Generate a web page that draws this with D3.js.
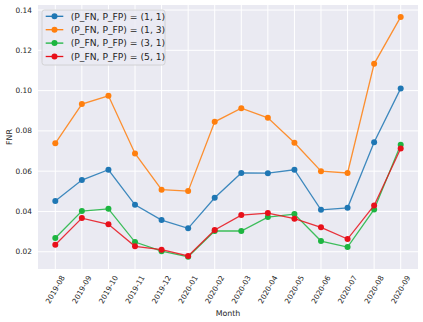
<!DOCTYPE html>
<html>
<head>
<meta charset="utf-8">
<script src="https://cdn.jsdelivr.net/npm/d3@7"></script>
<style>
  body { margin: 0; background: #fff; }
  svg { display: block; font-family: "DejaVu Sans", sans-serif; }
</style>
</head>
<body>
<div id="chart"></div>
<script>
// months on the x axis
const months = ["2019-08", "2019-09", "2019-10", "2019-11", "2019-12", "2020-01", "2020-02",
  "2020-03", "2020-04", "2020-05", "2020-06", "2020-07", "2020-08", "2020-09"]
const yTicks = [0.02, 0.04, 0.06, 0.08, 0.10, 0.12, 0.14]

// FNR per weighting
const fnr11 = [0.0452, 0.0556, 0.0607, 0.0433, 0.0357, 0.0316, 0.0468, 0.0591, 0.0590, 0.0607, 0.0408, 0.0418, 0.0744, 0.1011]
const fnr13 = [0.0738, 0.0933, 0.0974, 0.0688, 0.0508, 0.0501, 0.0845, 0.0913, 0.0865, 0.0741, 0.0600, 0.0591, 0.1133, 0.1366]
const fnr31 = [0.0268, 0.0402, 0.0413, 0.0248, 0.0203, 0.0175, 0.0303, 0.0303, 0.0372, 0.0387, 0.0253, 0.0223, 0.0410, 0.0731]
const fnr51 = [0.0235, 0.0367, 0.0336, 0.0227, 0.0210, 0.0179, 0.0308, 0.0382, 0.0392, 0.0364, 0.0321, 0.0263, 0.0430, 0.0713]

const seriesNames = ["(P_FN, P_FP) = (1, 1)", "(P_FN, P_FP) = (1, 3)", "(P_FN, P_FP) = (3, 1)", "(P_FN, P_FP) = (5, 1)"]
const seriesColors = ["#1f77b4", "#ff7f0e", "#1db540", "#e8101a"]
const seriesValues = [fnr11, fnr13, fnr31, fnr51]

let width = 423, height = 322
let margin = { top: 5, right: 5, bottom: 53, left: 38 }
let plotW = width - margin.left - margin.right
let plotH = height - margin.top - margin.bottom

let svg = d3.select("#chart").append("svg")
  .attr("width", width)
  .attr("height", height)

// x: matplotlib style 5% margin either side
let xPos = d3.scalePoint().domain(months).range([0, plotW]).padding(0)
let pad = 17.3
xPos.range([pad, plotW - pad])

let y = d3.scaleLinear().domain([0.01143, 0.1425]).range([plotH, 0])

let g = svg.append("g").attr("transform", "translate(" + margin.left + "," + margin.top + ")")

g.append("rect")
  .attr("width", plotW)
  .attr("height", plotH)
  .attr("fill", "#eaeaf2")

// gridlines
g.selectAll(".ygrid").data(yTicks).enter().append("line")
  .attr("x1", 0).attr("x2", plotW)
  .attr("y1", d => y(d)).attr("y2", d => y(d))
  .attr("stroke", "#fff").attr("stroke-width", 1)
g.selectAll(".xgrid").data(months).enter().append("line")
  .attr("y1", 0).attr("y2", plotH)
  .attr("x1", d => xPos(d)).attr("x2", d => xPos(d))
  .attr("stroke", "#fff").attr("stroke-width", 1)

// y tick labels
g.selectAll(".ylab").data(yTicks).enter().append("text")
  .attr("x", -6)
  .attr("y", d => y(d))
  .attr("dy", "0.35em")
  .attr("text-anchor", "end")
  .attr("font-size", 7.4)
  .attr("fill", "#262626")
  .text(d => d.toFixed(2))

// x tick labels rotated 60deg, centred on the tick like matplotlib
let xl = g.selectAll(".xlab").data(months).enter().append("text")
  .attr("text-anchor", "middle")
  .attr("font-size", 7.4)
  .attr("fill", "#262626")
  .attr("dominant-baseline", "central")
  .text(d => d)
xl.each(function (d) {
  let w = this.getComputedTextLength(), h = 8.6
  let bh = w * Math.sin(Math.PI / 3) + h * Math.cos(Math.PI / 3)
  let cy = plotH + 5 + bh / 2
  d3.select(this)
    .attr("transform", "translate(" + xPos(d) + "," + cy + ") rotate(-60)")
})

// axis titles
g.append("text")
  .attr("x", plotW / 2)
  .attr("y", 313 - margin.top)
  .attr("dy", "0.35em")
  .attr("text-anchor", "middle")
  .attr("font-size", 7.9)
  .attr("fill", "#262626")
  .text("Month")
svg.append("text")
  .attr("transform", "translate(9," + (margin.top + plotH / 2) + ") rotate(-90)")
  .attr("dy", "0.35em")
  .attr("text-anchor", "middle")
  .attr("font-size", 7.9)
  .attr("fill", "#262626")
  .text("FNR")

// lines + markers
let line = d3.line().x((d, i) => xPos(months[i])).y(d => y(d))
seriesValues.forEach(function (vals, k) {
  g.append("path")
    .attr("d", line(vals))
    .attr("fill", "none")
    .attr("stroke", seriesColors[k])
    .attr("stroke-opacity", 0.85)
    .attr("stroke-width", 1.3)
  g.selectAll(".pt" + k).data(vals).enter().append("circle")
    .attr("cx", (d, i) => xPos(months[i]))
    .attr("cy", d => y(d))
    .attr("r", 3)
    .attr("fill", seriesColors[k])
})

// legend
let lg = svg.append("g").attr("transform", "translate(42,10)")
lg.append("rect")
  .attr("width", 123).attr("height", 55)
  .attr("rx", 2.5)
  .attr("fill", "#eaeaf2").attr("fill-opacity", 0.8)
  .attr("stroke", "#cccccc").attr("stroke-width", 0.8)
seriesNames.forEach(function (name, k) {
  let yy = 6.3 + k * 13.4
  lg.append("line")
    .attr("x1", 3.7).attr("x2", 21.3)
    .attr("y1", yy).attr("y2", yy)
    .attr("stroke", seriesColors[k]).attr("stroke-width", 1.3)
  lg.append("circle")
    .attr("cx", 12.5).attr("cy", yy).attr("r", 3)
    .attr("fill", seriesColors[k])
  lg.append("text")
    .attr("x", 28.7).attr("y", yy)
    .attr("dy", "0.35em")
    .attr("font-size", 9.2)
    .attr("fill", "#262626")
    .text(name)
})
</script>
</body>
</html>
